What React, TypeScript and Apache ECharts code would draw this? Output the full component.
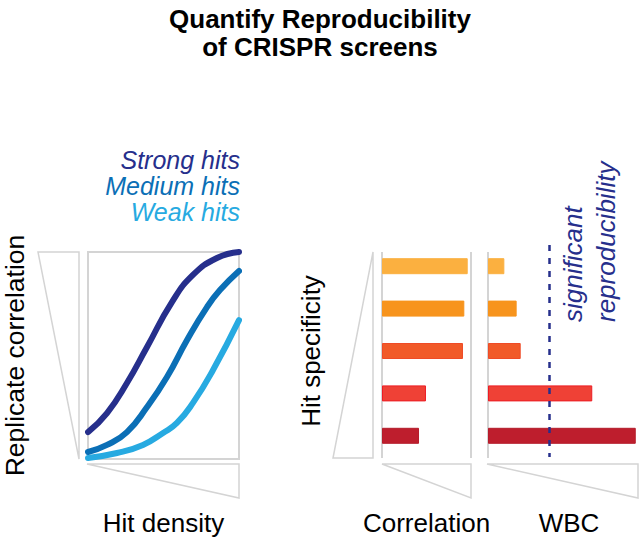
import React, { useEffect, useRef } from "react";
import * as echarts from "echarts";

// ---- Data ----
// Hit density (x, 0..1) vs replicate correlation (y, 0..1)
const strongHits = [[0, 0.13], [0.126, 0.222], [0.258, 0.367], [0.391, 0.541], [0.556, 0.758], [0.695, 0.889], [0.854, 0.971], [1, 1.0]];
const mediumHits = [[0, 0.034], [0.126, 0.068], [0.258, 0.13], [0.391, 0.251], [0.523, 0.396], [0.656, 0.575], [0.788, 0.734], [0.874, 0.816], [1, 0.908]];
const weakHits = [[0, 0.005], [0.192, 0.029], [0.364, 0.068], [0.497, 0.126], [0.589, 0.174], [0.695, 0.271], [0.828, 0.43], [1, 0.671]];

const specificityLevels = ["Level 5", "Level 4", "Level 3", "Level 2", "Level 1"];
const correlationValues = [0.963, 0.925, 0.91, 0.494, 0.416];
const wbcValues = [0.109, 0.191, 0.218, 0.695, 0.985];
const significanceThreshold = 0.407;

const barColors = ["#fbb040", "#f7941d", "#f15a29", "#ef4136", "#be1e2d"];
const barBorders = ["#fbb040", "#f7941d", "#ef4b27", "#ed1c24", "#b51c2b"];

const FONT = '"Liberation Sans", Arial, Helvetica, sans-serif';
const GRAY = "#d4d4d4";
const NAVY = "#262f8c";

export default function App() {
  const ref = useRef<HTMLDivElement>(null);
  useEffect(() => {
    if (!ref.current) return;
    const chart = echarts.init(ref.current, null, { renderer: "svg" });

    const hidden = {
      axisLine: { show: false },
      axisTick: { show: false },
      axisLabel: { show: false },
      splitLine: { show: false },
    };
    const nameStyle = { fontFamily: FONT, fontSize: 26, color: "#000" };

    const lineSeries = (name: string, data: number[][], color: string) => ({
      name,
      type: "line",
      xAxisIndex: 0,
      yAxisIndex: 0,
      data,
      smooth: true,
      showSymbol: false,
      clip: false,
      lineStyle: { color, width: 6, cap: "round", join: "round" },
      z: 3,
    });

    const barData = (vals: number[]) =>
      vals.map((v, i) => ({
        value: v,
        itemStyle: { color: barColors[i], borderColor: barBorders[i], borderWidth: 1 },
      }));

    const tri = (pts: number[][]) => ({
      type: "polygon",
      shape: { points: pts },
      style: { fill: "none", stroke: GRAY, lineWidth: 1.5 },
      silent: true,
    });
    const vline = (x: number, y1: number, y2: number) => ({
      type: "line",
      shape: { x1: x, y1, x2: x, y2 },
      style: { stroke: GRAY, lineWidth: 2 },
      silent: true,
    });
    const legendText = (text: string, y: number, color: string) => ({
      type: "text",
      x: 240,
      y,
      style: {
        text,
        fill: color,
        fontFamily: FONT,
        fontSize: 25,
        fontStyle: "italic",
        align: "right",
        verticalAlign: "middle",
      },
    });

    chart.setOption({
      animation: false,
      backgroundColor: "#ffffff",
      title: {
        text: "Quantify Reproducibility\nof CRISPR screens",
        left: "center",
        top: 0,
        textStyle: { fontFamily: FONT, fontSize: 26, fontWeight: "bold", color: "#000", lineHeight: 28 },
      },
      grid: [
        { left: 88, top: 252, width: 151, height: 207, show: true, borderColor: GRAY, borderWidth: 2, backgroundColor: "transparent" },
        { left: 382, top: 245, width: 89, height: 212 },
        { left: 488, top: 245, width: 150, height: 212 },
      ],
      xAxis: [
        { type: "value", gridIndex: 0, min: 0, max: 1, ...hidden, name: "Hit density", nameLocation: "middle", nameGap: 51, nameTextStyle: nameStyle },
        { type: "value", gridIndex: 1, min: 0, max: 1, ...hidden, name: "Correlation", nameLocation: "middle", nameGap: 53, nameTextStyle: nameStyle },
        { type: "value", gridIndex: 2, min: 0, max: 1, ...hidden, name: "WBC", nameLocation: "middle", nameGap: 53, nameTextStyle: { ...nameStyle, padding: [0, 0, 0, 12] } },
      ],
      yAxis: [
        { type: "value", gridIndex: 0, min: 0, max: 1, ...hidden, name: "Replicate correlation", nameLocation: "middle", nameGap: 60, nameTextStyle: { ...nameStyle, fontSize: 26.5 } },
        { type: "category", gridIndex: 1, data: specificityLevels, inverse: true, ...hidden, name: "Hit specificity", nameLocation: "middle", nameGap: 58, nameTextStyle: nameStyle },
        { type: "category", gridIndex: 2, data: specificityLevels, inverse: true, ...hidden },
      ],
      series: [
        lineSeries("Weak hits", weakHits, "#27aae1"),
        lineSeries("Medium hits", mediumHits, "#0b6fb6"),
        lineSeries("Strong hits", strongHits, NAVY),
        {
          name: "Correlation",
          type: "bar",
          xAxisIndex: 1,
          yAxisIndex: 1,
          barWidth: 16,
          data: barData(correlationValues),
        },
        {
          name: "WBC",
          type: "bar",
          xAxisIndex: 2,
          yAxisIndex: 2,
          barWidth: 16,
          data: barData(wbcValues),
          markLine: {
            silent: true,
            symbol: "none",
            label: { show: false },
            lineStyle: { color: NAVY, width: 2.5, type: [6, 7] },
            data: [{ xAxis: significanceThreshold }],
            z: 5,
          },
        },
      ],
      graphic: [
        tri([[38, 252], [79, 252], [79, 459]]),
        tri([[87, 464], [239, 464], [239, 498]]),
        tri([[333, 458], [373, 458], [373, 252]]),
        tri([[382, 464], [471, 464], [471, 498]]),
        tri([[487, 464], [638, 464], [638, 498]]),
        vline(382, 252, 458),
        vline(471, 252, 458),
        vline(488, 252, 458),
        legendText("Strong hits", 160, NAVY),
        legendText("Medium hits", 186, "#0b6fb6"),
        legendText("Weak hits", 212, "#27aae1"),
        {
          type: "text",
          x: 556,
          y: 322,
          rotation: Math.PI / 2,
          style: {
            text: "significant\nreproducibility",
            fill: NAVY,
            fontFamily: FONT,
            fontSize: 26,
            fontStyle: "italic",
            lineHeight: 33,
            align: "left",
            verticalAlign: "top",
          },
        },
      ],
    });

    return () => chart.dispose();
  }, []);

  return (
    <div
      ref={ref}
      style={{ position: "absolute", left: 0, top: 0, width: 640, height: 539 }}
    />
  );
}
